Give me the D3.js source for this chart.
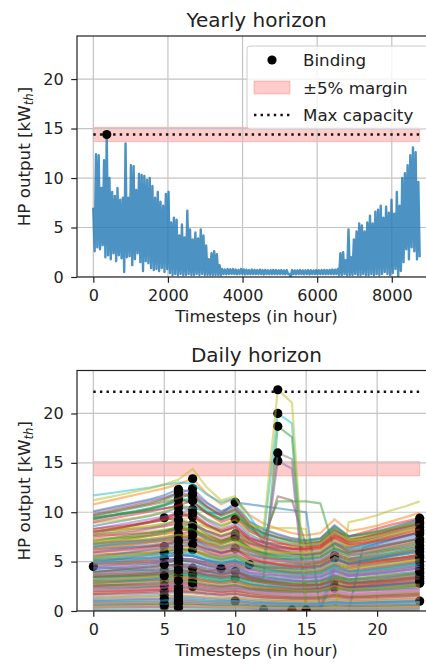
<!DOCTYPE html>
<html>
<head>
<meta charset="utf-8">
<script src="https://cdn.jsdelivr.net/npm/d3@7"></script>
<style>
  body { margin: 0; background: #fff; }
  svg { display: block; font-family: "DejaVu Sans", sans-serif; }
</style>
</head>
<body>
<svg id="fig" width="426" height="664"></svg>
<script>
// ---------- data ----------
// Yearly heat-pump output, summarised as alternating high/low samples every 36 h
const sampleHours = 36;
const yearlyPeaks = [
  7.0,12.4,12.3,9.0,11.8,14.4,10.0,8.6,8.2,9.0,
  7.8,8.0,13.5,8.0,11.3,11.2,8.8,10.4,10.3,10.2,
  9.8,10.0,9.2,8.0,8.6,7.6,7.2,8.4,8.6,5.5,
  6.0,5.8,4.2,5.3,4.0,6.7,4.8,3.8,4.5,3.9,
  4.8,4.2,3.2,1.8,2.4,2.6,2.3,1.2,0.8,0.75,
  0.8,0.78,0.8,0.75,0.72,0.8,0.76,0.74,0.7,0.75,
  0.72,0.7,0.74,0.7,0.72,0.68,0.7,0.72,0.7,0.68,
  0.7,0.66,0.7,0.3,0.7,0.66,0.68,0.7,0.66,0.68,
  0.7,0.68,0.66,0.7,0.68,0.7,0.72,0.7,0.72,0.75,
  0.74,0.8,2.4,2.5,1.7,4.8,2.0,3.8,4.6,5.4,
  5.2,4.6,5.5,6.2,5.4,6.6,6.8,7.2,6.0,7.1,
  6.5,7.8,6.4,8.6,7.2,10.0,10.5,11.3,12.3,13.1,
  12.6,9.6
];
const yearlyLows = [
  2.6,3.0,2.8,3.2,2.0,2.2,1.8,2.4,1.6,2.2,
  1.9,0.5,2.0,2.1,1.2,1.8,2.4,1.5,0.6,1.6,
  1.4,0.9,0.7,0.8,0.6,0.9,0.5,0.8,0.4,0.2,
  0.3,0.2,0.3,0.2,0.2,0.3,0.2,0.2,0.3,0.2,
  0.3,0.2,0.2,0.2,0.2,0.2,0.2,0.2,0.3,0.28,
  0.3,0.32,0.3,0.28,0.3,0.3,0.26,0.3,0.28,0.3,
  0.3,0.28,0.3,0.26,0.3,0.28,0.3,0.3,0.28,0.3,
  0.3,0.28,0.3,0.0,0.3,0.28,0.3,0.3,0.28,0.3,
  0.26,0.3,0.3,0.28,0.3,0.3,0.28,0.3,0.3,0.28,
  0.3,0.2,0.2,0.3,0.2,0.2,0.2,0.3,0.2,0.2,
  0.3,0.2,0.2,0.3,0.2,0.3,0.2,0.3,0.5,0.3,
  0.2,0.4,0.8,0.0,0.6,1.5,2.8,1.8,3.0,2.6,
  1.8,2.0
];

const yearlyCapacity = 14.4;   // kW_th, sized on the whole year
const dailyCapacity = 22.2;    // kW_th, largest of the day-by-day sizings
const marginFraction = 0.05;

const yearTicks = [0, 2000, 4000, 6000, 8000];
const hourTicks = [0, 5, 10, 15, 20];
const valueTicks = [0, 5, 10, 15, 20];
const yMax = 24.35;

const hoursOfDay = [0,1,2,3,4,5,6,7,8,9,10,11,12,13,14,15,16,17,18,19,20,21,22,23];

// One hourly profile per optimised day
const dailyProfiles = [
  [10.1,10.4,10.71,11.01,11.31,11.72,12.32,12.02,10.91,10.1,10.71,9.09,8.28,7.78,7.37,7.17,7.37,8.69,7.58,7.78,8.08,8.48,8.89,9.29],
  [10.8,11.12,11.45,11.77,12.1,12.42,12.85,13.39,11.88,10.8,11.45,9.72,8.86,8.32,7.88,7.67,7.88,9.29,8.1,8.32,8.64,9.07,9.5,9.94],
  [9.7,9.99,10.28,10.57,10.86,11.25,11.83,11.54,10.48,9.7,10.28,8.73,7.95,7.47,7.08,6.89,7.08,8.34,7.28,7.47,7.76,8.15,8.54,8.92],
  [8.1,8.18,8.26,8.34,8.42,8.59,8.83,8.75,8.1,7.61,8.02,7.29,6.97,6.8,6.72,6.72,6.97,8.1,7.53,7.94,8.34,8.75,9.07,9.4],
  [10.0,10.3,10.6,10.9,11.2,11.5,11.9,12.4,11.0,10.0,10.6,9.0,8.2,7.7,7.3,7.1,7.3,8.6,7.5,7.7,8.0,8.4,8.8,9.2],
  [7.8,8.11,8.42,8.74,9.05,9.44,9.13,8.81,8.11,7.57,8.03,6.86,6.32,5.93,5.62,5.46,5.62,6.63,5.77,5.93,6.16,6.47,6.79,7.1],
  [9.2,9.48,9.75,10.03,10.3,10.67,11.22,10.95,9.94,9.2,9.75,8.28,7.54,7.08,6.72,6.53,6.72,7.91,6.9,7.08,7.36,7.73,8.1,8.46],
  [6.72,6.85,6.99,7.12,7.26,7.39,7.53,7.46,7.12,6.99,7.8,6.38,5.78,5.38,5.11,4.97,5.11,5.91,5.24,5.38,5.58,5.85,6.12,6.38],
  [7.76,7.84,7.92,7.99,8.07,8.23,8.46,8.38,7.76,7.29,7.68,6.98,6.67,6.52,6.44,6.44,6.67,7.76,7.22,7.6,7.99,8.38,8.69,9.0],
  [9.3,9.58,9.86,10.14,10.42,10.7,11.07,11.53,10.23,9.3,9.86,8.37,7.63,7.16,6.79,6.6,6.79,8.0,6.98,7.16,7.44,7.81,8.18,8.56],
  [8.6,8.86,9.12,9.37,9.63,9.98,10.49,10.23,9.29,8.6,9.12,7.74,7.05,6.62,6.28,6.11,6.28,7.4,6.45,6.62,6.88,7.22,7.57,7.91],
  [7.33,7.4,7.48,7.55,7.62,7.77,7.99,7.92,7.33,6.89,7.26,6.6,6.3,6.16,6.08,6.08,6.3,7.33,6.82,7.18,7.55,7.92,8.21,8.5],
  [6.47,6.6,6.73,6.86,6.99,7.12,7.25,7.18,6.86,6.73,7.5,6.15,5.56,5.18,4.92,4.79,4.92,5.69,5.05,5.18,5.37,5.63,5.89,6.15],
  [8.0,8.24,8.48,8.72,8.96,9.28,9.76,9.52,8.64,8.0,8.48,7.2,6.56,6.16,5.84,5.68,5.84,6.88,6.0,6.16,6.4,6.72,7.04,7.36],
  [8.3,8.55,8.8,9.05,9.3,9.55,9.88,10.29,9.13,8.3,8.8,7.47,6.81,6.39,6.06,5.89,6.06,7.14,6.23,6.39,6.64,6.97,7.3,7.64],
  [6.9,6.97,7.04,7.11,7.18,7.31,7.52,7.45,6.9,6.49,6.83,6.21,5.93,5.8,5.73,5.73,5.93,6.9,6.42,6.76,7.11,7.45,7.73,8.0],
  [7.4,7.62,7.84,8.07,8.29,8.58,9.03,8.81,7.99,7.4,7.84,6.66,6.07,5.7,5.4,5.25,5.4,6.36,5.55,5.7,5.92,6.22,6.51,6.81],
  [5.4,5.62,5.83,6.05,6.26,6.53,6.32,6.1,5.62,5.24,5.56,4.75,4.37,4.1,3.89,3.78,3.89,4.59,4.0,4.1,4.27,4.48,4.7,4.91],
  [7.7,7.93,8.16,8.39,8.62,8.86,9.16,9.55,8.47,7.7,8.16,6.93,6.31,5.93,5.62,5.47,5.62,6.62,5.78,5.93,6.16,6.47,6.78,7.08],
  [6.72,6.79,6.85,6.92,6.99,7.12,7.32,7.26,6.72,6.32,6.65,6.05,5.78,5.64,5.58,5.58,5.78,6.72,6.25,6.59,6.92,7.26,7.53,7.8],
  [6.8,7.0,7.21,7.41,7.62,7.89,8.3,8.09,7.34,6.8,7.21,6.12,5.58,5.24,4.96,4.83,4.96,5.85,5.1,5.24,5.44,5.71,5.98,6.26],
  [5.43,5.54,5.65,5.76,5.86,5.97,6.08,6.03,5.76,5.65,6.3,5.16,4.67,4.34,4.13,4.02,4.13,4.78,4.24,4.34,4.51,4.72,4.94,5.16],
  [7.1,7.31,7.53,7.74,7.95,8.17,8.45,8.8,7.81,7.1,7.53,6.39,5.82,5.47,5.18,5.04,5.18,6.11,5.33,5.47,5.68,5.96,6.25,6.53],
  [5.0,5.0,5.05,5.1,5.15,5.2,5.3,5.25,4.9,4.65,4.9,4.6,4.5,4.5,4.55,4.65,4.9,5.6,5.1,5.1,5.2,5.3,5.4,5.5],
  [6.2,6.39,6.57,6.76,6.94,7.19,7.56,7.38,6.7,6.2,6.57,5.58,5.08,4.77,4.53,4.4,4.53,5.33,4.65,4.77,4.96,5.21,5.46,5.7],
  [5.69,5.75,5.8,5.86,5.92,6.03,6.2,6.15,5.69,5.35,5.63,5.12,4.89,4.78,4.72,4.72,4.89,5.69,5.29,5.58,5.86,6.15,6.37,6.6],
  [4.4,4.58,4.75,4.93,5.1,5.32,5.15,4.97,4.58,4.27,4.53,3.87,3.56,3.34,3.17,3.08,3.17,3.74,3.26,3.34,3.48,3.65,3.83,4.0],
  [6.5,6.7,6.89,7.09,7.28,7.48,7.74,8.06,7.15,6.5,6.89,5.85,5.33,5.01,4.75,4.62,4.75,5.59,4.88,5.01,5.2,5.46,5.72,5.98],
  [5.7,5.87,6.04,6.21,6.38,6.61,6.95,6.78,6.16,5.7,6.04,5.13,4.67,4.39,4.16,4.05,4.16,4.9,4.28,4.39,4.56,4.79,5.02,5.24],
  [4.5,4.4,4.3,4.2,4.1,4.0,4.1,4.0,3.7,3.4,3.6,3.2,2.9,2.7,2.5,2.4,2.5,2.9,2.5,2.5,2.6,2.7,2.8,2.9],
  [4.83,4.88,4.93,4.97,5.02,5.12,5.26,5.22,4.83,4.54,4.78,4.35,4.15,4.06,4.01,4.01,4.15,4.83,4.49,4.73,4.97,5.22,5.41,5.6],
  [4.82,4.82,4.87,4.92,4.96,5.01,5.11,5.06,4.72,4.48,4.72,4.43,4.34,4.34,4.39,4.48,4.72,5.4,4.92,4.92,5.01,5.11,5.21,5.3],
  [5.2,5.36,5.51,5.67,5.82,6.03,6.34,6.19,5.62,5.2,5.51,4.68,4.26,4.0,3.8,3.69,3.8,4.47,3.9,4.0,4.16,4.37,4.58,4.78],
  [3.45,3.52,3.59,3.66,3.73,3.8,3.86,3.83,3.66,3.59,4.0,3.28,2.97,2.76,2.62,2.55,2.62,3.04,2.69,2.76,2.86,3.0,3.14,3.28],
  [5.9,6.08,6.25,6.43,6.61,6.79,7.02,7.32,6.49,5.9,6.25,5.31,4.84,4.54,4.31,4.19,4.31,5.07,4.43,4.54,4.72,4.96,5.19,5.43],
  [4.66,4.71,4.75,4.8,4.85,4.94,5.08,5.03,4.66,4.38,4.61,4.19,4.01,3.91,3.87,3.87,4.01,4.66,4.33,4.57,4.8,5.03,5.22,5.4],
  [3.4,3.54,3.67,3.81,3.94,4.11,3.98,3.84,3.54,3.3,3.5,2.99,2.75,2.58,2.45,2.38,2.45,2.89,2.52,2.58,2.69,2.82,2.96,3.09],
  [4.7,4.84,4.98,5.12,5.26,5.45,5.73,5.59,5.08,4.7,4.98,4.23,3.85,3.62,3.43,3.34,3.43,4.04,3.53,3.62,3.76,3.95,4.14,4.32],
  [3.6,3.6,3.7,3.8,3.9,4.0,4.1,4.1,4.0,3.9,4.2,4.7,3.6,3.3,3.1,3.0,3.1,3.5,3.2,3.3,3.4,3.5,3.6,3.7],
  [3.97,4.01,4.05,4.09,4.13,4.21,4.33,4.29,3.97,3.73,3.93,3.57,3.41,3.33,3.3,3.3,3.41,3.97,3.69,3.89,4.09,4.29,4.45,4.6],
  [4.2,4.33,4.45,4.58,4.7,4.87,5.12,5.0,4.54,4.2,4.45,3.78,3.44,3.23,3.07,2.98,3.07,3.61,3.15,3.23,3.36,3.53,3.7,3.86],
  [5.0,5.15,5.3,5.45,5.6,5.75,5.95,6.2,5.5,5.0,5.3,4.5,4.1,3.85,3.65,3.55,3.65,4.3,3.75,3.85,4.0,4.2,4.4,4.6],
  [2.84,2.9,2.95,3.01,3.07,3.12,3.18,3.15,3.01,2.95,3.29,2.7,2.44,2.27,2.16,2.1,2.16,2.5,2.22,2.27,2.36,2.47,2.58,2.7],
  [3.2,3.3,3.4,3.5,3.6,3.7,3.8,3.9,4.0,4.3,4.1,3.5,3.1,2.9,2.7,2.6,2.7,3.1,2.8,2.9,3.0,3.1,3.3,3.4],
  [3.71,3.75,3.78,3.82,3.86,3.93,4.04,4.01,3.71,3.49,3.67,3.34,3.19,3.12,3.08,3.08,3.19,3.71,3.45,3.64,3.82,4.01,4.16,4.3],
  [3.7,3.81,3.92,4.03,4.14,4.29,4.51,4.4,4.0,3.7,3.92,3.33,3.03,2.85,2.7,2.63,2.7,3.18,2.78,2.85,2.96,3.11,3.26,3.4],
  [2.5,2.6,2.7,2.8,2.9,3.03,2.93,2.83,2.6,2.43,2.58,2.2,2.03,1.9,1.8,1.75,1.8,2.13,1.85,1.9,1.98,2.08,2.18,2.28],
  [3.5,3.6,3.71,3.82,3.92,4.03,4.17,4.34,3.85,3.5,3.71,3.15,2.87,2.7,2.56,2.49,2.56,3.01,2.63,2.7,2.8,2.94,3.08,3.22],
  [3.28,3.31,3.35,3.38,3.41,3.48,3.58,3.54,3.28,3.08,3.25,2.95,2.82,2.76,2.72,2.72,2.82,3.28,3.05,3.21,3.38,3.54,3.67,3.8],
  [3.2,3.3,3.39,3.49,3.58,3.71,3.9,3.81,3.46,3.2,3.39,2.88,2.62,2.46,2.34,2.27,2.34,2.75,2.4,2.46,2.56,2.69,2.82,2.94],
  [2.32,2.32,2.34,2.37,2.39,2.41,2.46,2.44,2.27,2.16,2.27,2.13,2.09,2.09,2.11,2.16,2.27,2.6,2.37,2.37,2.41,2.46,2.51,2.55],
  [2.84,2.87,2.9,2.93,2.95,3.01,3.1,3.07,2.84,2.67,2.81,2.56,2.44,2.39,2.36,2.36,2.44,2.84,2.64,2.78,2.93,3.07,3.18,3.3],
  [2.8,2.88,2.97,3.05,3.14,3.25,3.42,3.33,3.02,2.8,2.97,2.52,2.3,2.16,2.04,1.99,2.04,2.41,2.1,2.16,2.24,2.35,2.46,2.58],
  [1.7,1.77,1.84,1.9,1.97,2.06,1.99,1.92,1.77,1.65,1.75,1.5,1.38,1.29,1.22,1.19,1.22,1.45,1.26,1.29,1.34,1.41,1.48,1.55],
  [2.05,2.05,2.07,2.09,2.11,2.13,2.17,2.15,2.01,1.91,2.01,1.89,1.85,1.85,1.87,1.91,2.01,2.3,2.09,2.09,2.13,2.17,2.21,2.26],
  [2.41,2.43,2.46,2.48,2.51,2.55,2.63,2.6,2.41,2.27,2.39,2.17,2.07,2.02,2.0,2.0,2.07,2.41,2.24,2.36,2.48,2.6,2.7,2.8],
  [2.6,2.68,2.76,2.83,2.91,2.99,3.09,3.22,2.86,2.6,2.76,2.34,2.13,2.0,1.9,1.85,1.9,2.24,1.95,2.0,2.08,2.18,2.29,2.39],
  [2.3,2.37,2.44,2.51,2.58,2.67,2.81,2.74,2.48,2.3,2.44,2.07,1.89,1.77,1.68,1.63,1.68,1.98,1.73,1.77,1.84,1.93,2.02,2.12],
  [8.0,8.2,8.3,8.5,8.6,8.8,9.0,8.9,8.5,8.3,9.3,8.6,8.4,8.4,8.4,8.3,0.1,0.0,6.0,6.2,6.4,6.7,7.0,7.3],
  [1.3,1.35,1.4,1.46,1.51,1.57,1.52,1.47,1.35,1.26,1.34,1.14,1.05,0.99,0.94,0.91,0.94,1.11,0.96,0.99,1.03,1.08,1.13,1.18],
  [9.4,9.6,9.8,10.0,10.2,10.4,10.6,10.5,10.0,9.8,11.0,10.8,10.6,10.4,10.2,10.0,0.1,0.0,0.0,6.4,6.8,7.2,7.6,8.0],
  [2.0,2.06,2.12,2.18,2.24,2.3,2.38,2.48,2.2,2.0,2.12,1.8,1.64,1.54,1.46,1.42,1.46,1.72,1.5,1.54,1.6,1.68,1.76,1.84],
  [9.3,9.6,9.9,10.1,10.4,10.8,11.35,11.1,10.0,9.3,9.9,8.4,7.4,11.1,11.1,11.1,10.9,6.1,5.6,5.8,6.1,6.4,6.7,7.0],
  [1.9,1.96,2.01,2.07,2.13,2.2,2.32,2.26,2.05,1.9,2.01,1.71,1.56,1.46,1.39,1.35,1.39,1.63,1.43,1.46,1.52,1.6,1.67,1.75],
  [0.86,0.87,0.88,0.89,0.89,0.91,0.94,0.93,0.86,0.81,0.85,0.77,0.74,0.72,0.71,0.71,0.74,0.86,0.8,0.84,0.89,0.93,0.96,1.0],
  [9.8,10.1,10.4,10.7,11.0,11.4,12.0,11.7,10.6,9.8,10.4,8.8,7.0,11.6,11.2,6.6,6.8,8.0,7.0,7.2,7.5,7.9,8.3,8.6],
  [0.86,0.88,0.89,0.91,0.93,0.95,0.96,0.95,0.91,0.89,1.0,0.82,0.74,0.69,0.65,0.64,0.65,0.76,0.67,0.69,0.71,0.75,0.78,0.82],
  [1.5,1.55,1.59,1.64,1.68,1.74,1.83,1.79,1.62,1.5,1.59,1.35,1.23,1.16,1.1,1.07,1.1,1.29,1.13,1.16,1.2,1.26,1.32,1.38],
  [0.65,0.68,0.7,0.73,0.75,0.79,0.76,0.73,0.68,0.63,0.67,0.57,0.53,0.49,0.47,0.46,0.47,0.55,0.48,0.49,0.51,0.54,0.57,0.59],
  [11.7,11.9,12.1,12.3,12.5,12.8,13.0,12.9,11.8,11.0,11.4,9.6,7.5,20.0,19.0,0.5,0.3,5.5,4.8,5.0,5.3,5.6,5.9,6.2],
  [1.1,1.13,1.17,1.2,1.23,1.28,1.34,1.31,1.19,1.1,1.17,0.99,0.9,0.85,0.8,0.78,0.8,0.95,0.83,0.85,0.88,0.92,0.97,1.01],
  [0.8,0.82,0.85,0.87,0.9,0.93,0.98,0.95,0.86,0.8,0.85,0.72,0.66,0.62,0.58,0.57,0.58,0.69,0.6,0.62,0.64,0.67,0.7,0.74],
  [4.0,4.1,4.2,4.3,4.4,4.6,4.8,4.7,4.3,4.0,4.2,3.6,3.3,18.7,17.6,0.3,0.2,3.4,3.0,3.1,3.2,3.4,3.6,3.8],
  [0.35,0.36,0.38,0.39,0.41,0.42,0.41,0.4,0.36,0.34,0.36,0.31,0.28,0.27,0.25,0.25,0.25,0.3,0.26,0.27,0.28,0.29,0.3,0.32],
  [5.5,5.7,5.8,6.0,6.2,6.4,6.7,6.5,5.9,5.5,5.8,5.0,4.5,15.2,14.4,0.2,0.1,4.2,3.7,3.8,4.0,4.2,4.4,4.6],
  [0.5,0.52,0.53,0.55,0.56,0.58,0.61,0.6,0.54,0.5,0.53,0.45,0.41,0.39,0.37,0.36,0.37,0.43,0.38,0.39,0.4,0.42,0.44,0.46],
  [0.05,0.05,0.05,0.05,0.05,0.05,0.06,0.06,0.05,0.05,0.05,0.06,0.12,0.08,0.05,0.04,0.04,0.05,0.04,0.04,0.05,0.05,0.05,0.05],
  [6.0,6.2,6.4,6.6,6.7,6.9,7.3,7.1,6.5,6.0,6.4,5.4,4.9,16.0,15.4,0.4,0.2,4.6,4.0,4.1,4.3,4.5,4.7,4.9],
  [11.2,11.5,11.8,12.1,12.4,12.8,13.3,14.4,12.5,11.2,11.6,8.8,8.4,22.4,21.1,0.2,0.1,0.0,9.0,9.3,9.7,10.2,10.6,11.1],
  [0.25,0.26,0.27,0.27,0.28,0.29,0.31,0.3,0.27,0.25,0.27,0.23,0.21,0.19,0.18,0.18,0.18,0.22,0.19,0.19,0.2,0.21,0.22,0.23],
  [0.04,0.04,0.04,0.05,0.05,0.05,0.05,0.05,0.05,0.04,0.05,0.05,0.06,0.07,0.1,0.05,0.04,0.05,0.04,0.04,0.04,0.04,0.04,0.04],
  [0.03,0.03,0.03,0.03,0.03,0.04,0.04,0.04,0.04,0.03,0.04,0.04,0.05,0.05,0.06,0.09,0.05,0.04,0.03,0.03,0.03,0.03,0.03,0.03],
  [9.45,9.64,9.83,10.02,10.3,10.68,11.34,10.96,9.92,9.26,9.83,8.51,7.84,7.47,7.18,7.09,7.28,8.51,7.56,7.75,8.03,8.32,8.69,9.07],
  [7.59,7.67,7.74,7.82,7.89,8.05,8.27,8.2,7.59,7.13,7.51,6.83,6.53,6.38,6.3,6.3,6.53,7.59,7.06,7.44,7.82,8.2,8.5,8.8],
  [4.9,5.1,5.29,5.49,5.68,5.93,5.73,5.54,5.1,4.75,5.05,4.31,3.97,3.72,3.53,3.43,3.53,4.17,3.63,3.72,3.87,4.07,4.26,4.46],
  [9.6,9.89,10.18,10.46,10.75,11.04,11.42,11.9,10.56,9.6,10.18,8.64,7.87,7.39,7.01,6.82,7.01,8.26,7.2,7.39,7.68,8.06,8.45,8.83],
  [0.4,0.41,0.42,0.42,0.44,0.45,0.48,0.46,0.42,0.39,0.42,0.36,0.33,0.32,0.3,0.3,0.31,0.36,0.32,0.33,0.34,0.35,0.37,0.38],
  [3.02,3.05,3.08,3.11,3.14,3.2,3.29,3.26,3.02,2.84,2.99,2.72,2.6,2.54,2.51,2.51,2.6,3.02,2.81,2.96,3.11,3.26,3.38,3.5],
  [8.9,9.08,9.26,9.43,9.7,10.06,10.68,10.32,9.35,8.72,9.26,8.01,7.39,7.03,6.76,6.68,6.85,8.01,7.12,7.3,7.57,7.83,8.19,8.54],
  [3.0,3.09,3.18,3.27,3.36,3.45,3.57,3.72,3.3,3.0,3.18,2.7,2.46,2.31,2.19,2.13,2.19,2.58,2.25,2.31,2.4,2.52,2.64,2.76],
  [6.29,6.35,6.42,6.48,6.54,6.67,6.86,6.79,6.29,5.91,6.23,5.66,5.41,5.28,5.22,5.22,5.41,6.29,5.85,6.16,6.48,6.79,7.04,7.3],
  [1.3,1.33,1.35,1.38,1.42,1.47,1.56,1.51,1.37,1.27,1.35,1.17,1.08,1.03,0.99,0.98,1.0,1.17,1.04,1.07,1.11,1.14,1.2,1.25],
  [2.1,2.18,2.27,2.35,2.44,2.54,2.46,2.37,2.18,2.04,2.16,1.85,1.7,1.6,1.51,1.47,1.51,1.79,1.55,1.6,1.66,1.74,1.83,1.91],
  [8.3,8.47,8.63,8.8,9.05,9.38,9.96,9.63,8.72,8.13,8.63,7.47,6.89,6.56,6.31,6.23,6.39,7.47,6.64,6.81,7.06,7.3,7.64,7.97],
  [4.31,4.35,4.4,4.44,4.48,4.57,4.7,4.65,4.31,4.05,4.27,3.88,3.71,3.62,3.58,3.58,3.71,4.31,4.01,4.22,4.44,4.65,4.83,5.0],
  [8.0,8.24,8.48,8.72,8.96,9.2,9.52,9.92,8.8,8.0,8.48,7.2,6.56,6.16,5.84,5.68,5.84,6.88,6.0,6.16,6.4,6.72,7.04,7.36],
  [2.1,2.14,2.18,2.23,2.29,2.37,2.52,2.44,2.21,2.06,2.18,1.89,1.74,1.66,1.6,1.58,1.62,1.89,1.68,1.72,1.79,1.85,1.93,2.02],
  [7.7,7.85,8.01,8.16,8.39,8.7,9.24,8.93,8.09,7.55,8.01,6.93,6.39,6.08,5.85,5.78,5.93,6.93,6.16,6.31,6.55,6.78,7.08,7.39],
  [0.5,0.52,0.54,0.56,0.58,0.61,0.59,0.57,0.52,0.49,0.52,0.44,0.41,0.38,0.36,0.35,0.36,0.43,0.37,0.38,0.4,0.42,0.44,0.46],
  [5.43,5.48,5.54,5.59,5.65,5.76,5.92,5.86,5.43,5.1,5.38,4.89,4.67,4.56,4.51,4.51,4.67,5.43,5.05,5.32,5.59,5.86,6.08,6.3],
  [3.0,3.06,3.12,3.18,3.27,3.39,3.6,3.48,3.15,2.94,3.12,2.7,2.49,2.37,2.28,2.25,2.31,2.7,2.4,2.46,2.55,2.64,2.76,2.88],
  [6.8,7.0,7.21,7.41,7.62,7.82,8.09,8.43,7.48,6.8,7.21,6.12,5.58,5.24,4.96,4.83,4.96,5.85,5.1,5.24,5.44,5.71,5.98,6.26],
  [7.1,7.24,7.38,7.53,7.74,8.02,8.52,8.24,7.46,6.96,7.38,6.39,5.89,5.61,5.4,5.33,5.47,6.39,5.68,5.82,6.04,6.25,6.53,6.82],
  [2.59,2.62,2.64,2.67,2.69,2.75,2.82,2.8,2.59,2.43,2.56,2.33,2.23,2.18,2.15,2.15,2.23,2.59,2.41,2.54,2.67,2.8,2.9,3.0],
  [3.95,4.03,4.11,4.19,4.31,4.46,4.74,4.58,4.15,3.87,4.11,3.56,3.28,3.12,3.0,2.96,3.04,3.56,3.16,3.24,3.36,3.48,3.63,3.79],
  [3.9,4.06,4.21,4.37,4.52,4.72,4.56,4.41,4.06,3.78,4.02,3.43,3.16,2.96,2.81,2.73,2.81,3.32,2.89,2.96,3.08,3.24,3.39,3.55],
  [2.3,2.37,2.44,2.51,2.58,2.65,2.74,2.85,2.53,2.3,2.44,2.07,1.89,1.77,1.68,1.63,1.68,1.98,1.73,1.77,1.84,1.93,2.02,2.12],
  [6.5,6.63,6.76,6.89,7.09,7.35,7.8,7.54,6.83,6.37,6.76,5.85,5.4,5.14,4.94,4.88,5.01,5.85,5.2,5.33,5.53,5.72,5.98,6.24],
  [7.07,7.14,7.21,7.28,7.35,7.49,7.71,7.64,7.07,6.65,7.0,6.36,6.08,5.94,5.87,5.87,6.08,7.07,6.58,6.93,7.28,7.64,7.92,8.2],
  [4.95,5.05,5.15,5.25,5.4,5.59,5.94,5.74,5.2,4.85,5.15,4.46,4.11,3.91,3.76,3.71,3.81,4.46,3.96,4.06,4.21,4.36,4.55,4.75],
  [0.65,0.66,0.68,0.69,0.71,0.73,0.78,0.75,0.68,0.64,0.68,0.59,0.54,0.51,0.49,0.49,0.5,0.59,0.52,0.53,0.55,0.57,0.6,0.62],
  [6.2,6.39,6.57,6.76,6.94,7.13,7.38,7.69,6.82,6.2,6.57,5.58,5.08,4.77,4.53,4.4,4.53,5.33,4.65,4.77,4.96,5.21,5.46,5.7],
  [3.45,3.48,3.52,3.55,3.59,3.66,3.76,3.73,3.45,3.24,3.42,3.11,2.97,2.9,2.86,2.86,2.97,3.45,3.21,3.38,3.55,3.73,3.86,4.0],
  [5.95,6.07,6.19,6.31,6.49,6.72,7.14,6.9,6.25,5.83,6.19,5.36,4.94,4.7,4.52,4.46,4.58,5.36,4.76,4.88,5.06,5.24,5.47,5.71],
  [1.0,1.04,1.08,1.12,1.16,1.21,1.17,1.13,1.04,0.97,1.03,0.88,0.81,0.76,0.72,0.7,0.72,0.85,0.74,0.76,0.79,0.83,0.87,0.91],
  [1.7,1.73,1.77,1.8,1.85,1.92,2.04,1.97,1.79,1.67,1.77,1.53,1.41,1.34,1.29,1.28,1.31,1.53,1.36,1.39,1.45,1.5,1.56,1.63],
  [6.03,6.09,6.15,6.21,6.27,6.39,6.57,6.51,6.03,5.67,5.97,5.43,5.19,5.07,5.0,5.0,5.19,6.03,5.61,5.91,6.21,6.51,6.75,7.0],
  [5.45,5.61,5.78,5.94,6.1,6.27,6.49,6.76,6.0,5.45,5.78,4.91,4.47,4.2,3.98,3.87,3.98,4.69,4.09,4.2,4.36,4.58,4.8,5.01],
  [5.45,5.56,5.67,5.78,5.94,6.16,6.54,6.32,5.72,5.34,5.67,4.91,4.52,4.31,4.14,4.09,4.2,4.91,4.36,4.47,4.63,4.8,5.01,5.23],
  [0.95,0.97,0.99,1.01,1.04,1.07,1.14,1.1,1.0,0.93,0.99,0.86,0.79,0.75,0.72,0.71,0.73,0.86,0.76,0.78,0.81,0.84,0.87,0.91],
  [5.17,5.22,5.27,5.33,5.38,5.48,5.64,5.58,5.17,4.86,5.12,4.65,4.45,4.34,4.29,4.29,4.45,5.17,4.81,5.07,5.33,5.58,5.79,6.0],
  [2.95,3.07,3.19,3.3,3.42,3.57,3.45,3.33,3.07,2.86,3.04,2.6,2.39,2.24,2.12,2.07,2.12,2.51,2.18,2.24,2.33,2.45,2.57,2.68],
  [2.55,2.6,2.65,2.7,2.78,2.88,3.06,2.96,2.68,2.5,2.65,2.3,2.12,2.01,1.94,1.91,1.96,2.3,2.04,2.09,2.17,2.24,2.35,2.45],
  [9.0,9.27,9.54,9.81,10.08,10.35,10.71,11.16,9.9,9.0,9.54,8.1,7.38,6.93,6.57,6.39,6.57,7.74,6.75,6.93,7.2,7.56,7.92,8.28],
  [4.45,4.54,4.63,4.72,4.85,5.03,5.34,5.16,4.67,4.36,4.63,4.01,3.69,3.52,3.38,3.34,3.43,4.01,3.56,3.65,3.78,3.92,4.09,4.27],
  [3.45,3.52,3.59,3.66,3.76,3.9,4.14,4.0,3.62,3.38,3.59,3.11,2.86,2.73,2.62,2.59,2.66,3.11,2.76,2.83,2.93,3.04,3.17,3.31]
];

// ---------- drawing ----------
const svg = d3.select("#fig");
const tab10 = d3.schemeCategory10;
const textColor = "#222";

const yearlySeries = [];
yearlyPeaks.forEach((v, i) => {
  yearlySeries.push({ t: 2 * i * sampleHours, v: v });
  yearlySeries.push({ t: (2 * i + 1) * sampleHours, v: yearlyLows[i] });
});

function padded(extent) {
  const span = extent[1] - extent[0];
  return [extent[0] - 0.05 * span, extent[1] + 0.05 * span];
}

function makePanel(id, box, xExtent, xTicks, title) {
  const x = d3.scaleLinear().domain(padded(xExtent)).range([box.left, box.right]);
  const y = d3.scaleLinear().domain([0, yMax]).range([box.bottom, box.top]);
  const g = svg.append("g").attr("class", id);

  g.append("clipPath").attr("id", "clip-" + id)
    .append("rect")
    .attr("x", box.left).attr("y", box.top)
    .attr("width", box.right - box.left).attr("height", box.bottom - box.top);

  const under = g.append("g").attr("clip-path", `url(#clip-${id})`);
  const grid = g.append("g").attr("clip-path", `url(#clip-${id})`);
  const plot = g.append("g").attr("clip-path", `url(#clip-${id})`);

  grid.selectAll("line.gx").data(xTicks).join("line")
    .attr("x1", d => x(d)).attr("x2", d => x(d))
    .attr("y1", box.top).attr("y2", box.bottom)
    .attr("stroke", "#c4c4c4").attr("stroke-width", 1.2);
  grid.selectAll("line.gy").data(valueTicks).join("line")
    .attr("x1", box.left).attr("x2", box.right)
    .attr("y1", d => y(d)).attr("y2", d => y(d))
    .attr("stroke", "#c4c4c4").attr("stroke-width", 1.2);

  const xAxis = g.append("g").attr("transform", `translate(0,${box.bottom})`)
    .call(d3.axisBottom(x).tickValues(xTicks).tickFormat(d3.format("d"))
      .tickSize(5.8).tickPadding(7).tickSizeOuter(0));
  const yAxis = g.append("g").attr("transform", `translate(${box.left},0)`)
    .call(d3.axisLeft(y).tickValues(valueTicks).tickFormat(d3.format("d"))
      .tickSize(5.8).tickPadding(7.5).tickSizeOuter(0));
  [xAxis, yAxis].forEach(a => {
    a.select(".domain").remove();
    a.selectAll(".tick line").attr("stroke", "#222").attr("stroke-width", 1.2);
    a.selectAll(".tick text").attr("fill", textColor)
      .style("font-family", '"DejaVu Sans", sans-serif').style("font-size", "16px");
  });

  g.append("text")
    .attr("x", (box.left + box.right) / 2).attr("y", box.top - 9)
    .attr("text-anchor", "middle").attr("fill", textColor)
    .style("font-size", "20px").text(title);

  g.append("text")
    .attr("x", (box.left + box.right) / 2).attr("y", box.bottom + 45)
    .attr("text-anchor", "middle").attr("fill", textColor)
    .style("font-size", "16.7px").text("Timesteps (in hour)");

  const yl = g.append("text")
    .attr("transform", `translate(29.5,${(box.top + box.bottom) / 2}) rotate(-90)`)
    .attr("text-anchor", "middle").attr("fill", textColor)
    .style("font-size", "16.7px");
  yl.append("tspan").text("HP output [kW");
  yl.append("tspan").attr("dy", 3.5).style("font-size", "11.7px").style("font-style", "italic").text("th");
  yl.append("tspan").attr("dy", -3.5).text("]");

  return { x, y, g, under, plot, box };
}

function drawMargin(p, xMaxData) {
  p.under.append("rect")
    .attr("x", p.x(0)).attr("width", p.x(xMaxData) - p.x(0))
    .attr("y", p.y(yearlyCapacity * (1 + marginFraction)))
    .attr("height", p.y(yearlyCapacity * (1 - marginFraction)) - p.y(yearlyCapacity * (1 + marginFraction)))
    .attr("fill", "red").attr("fill-opacity", 0.2)
    .attr("stroke", "red").attr("stroke-opacity", 0.2).attr("stroke-width", 1);
}

function drawCapacity(p, xMaxData, cap) {
  p.plot.append("line")
    .attr("x1", p.x(0)).attr("x2", p.x(xMaxData))
    .attr("y1", p.y(cap)).attr("y2", p.y(cap))
    .attr("stroke", "#111").attr("stroke-width", 2.4)
    .attr("stroke-dasharray", "2.4,4.2");
}

function drawFrame(p) {
  const b = p.box;
  p.g.append("rect")
    .attr("x", b.left).attr("y", b.top)
    .attr("width", b.right - b.left).attr("height", b.bottom - b.top)
    .attr("fill", "none").attr("stroke", "#222").attr("stroke-width", 1.2);
}

// ----- yearly panel -----
const yearEnd = yearlySeries[yearlySeries.length - 1].t;
const yearPanel = makePanel("yearly", { left: 77, right: 436, top: 36, bottom: 277 },
  [0, yearEnd], yearTicks, "Yearly horizon");
drawMargin(yearPanel, yearEnd);

yearPanel.plot.append("path")
  .datum(yearlySeries)
  .attr("d", d3.line().x(d => yearPanel.x(d.t)).y(d => yearPanel.y(d.v)))
  .attr("fill", "none").attr("stroke", "#1f77b4").attr("stroke-opacity", 0.8)
  .attr("stroke-width", 2.4).attr("stroke-linejoin", "round");

drawCapacity(yearPanel, yearEnd, yearlyCapacity);

const yearBinding = yearlySeries[d3.maxIndex(yearlySeries, d => d.v)];
yearPanel.plot.append("circle")
  .attr("cx", yearPanel.x(yearBinding.t)).attr("cy", yearPanel.y(yearBinding.v))
  .attr("r", 4.6).attr("fill", "#000");
drawFrame(yearPanel);

// legend
const lg = yearPanel.g.append("g");
lg.append("rect").attr("x", 247).attr("y", 46).attr("width", 181).attr("height", 83)
  .attr("rx", 3).attr("fill", "#fff").attr("fill-opacity", 0.8)
  .attr("stroke", "#cccccc").attr("stroke-width", 1);
const rows = [60, 87.5, 115];
lg.append("circle").attr("cx", 272).attr("cy", rows[0]).attr("r", 4.6).attr("fill", "#000");
lg.append("rect").attr("x", 254).attr("y", rows[1] - 6.5).attr("width", 36).attr("height", 13)
  .attr("fill", "red").attr("fill-opacity", 0.2).attr("stroke", "red").attr("stroke-opacity", 0.2);
lg.append("line").attr("x1", 254).attr("x2", 290).attr("y1", rows[2]).attr("y2", rows[2])
  .attr("stroke", "#111").attr("stroke-width", 2.4).attr("stroke-dasharray", "2.4,4.2");
["Binding", "\u00b15% margin", "Max capacity"].forEach((t, i) => {
  lg.append("text").attr("x", 303).attr("y", rows[i] + 6)
    .attr("fill", textColor).style("font-size", "16.7px").text(t);
});

// ----- daily panel -----
const dayEnd = hoursOfDay[hoursOfDay.length - 1];
const dayPanel = makePanel("daily", { left: 77, right: 436, top: 370.5, bottom: 611 },
  [0, dayEnd], hourTicks, "Daily horizon");
drawMargin(dayPanel, dayEnd);
drawCapacity(dayPanel, dayEnd, dailyCapacity);

const dayLine = d3.line().x((d, h) => dayPanel.x(hoursOfDay[h])).y(d => dayPanel.y(d));
dailyProfiles.forEach((profile, i) => {
  dayPanel.plot.append("path")
    .attr("d", dayLine(profile))
    .attr("fill", "none").attr("stroke", tab10[i % 10]).attr("stroke-opacity", 0.5)
    .attr("stroke-width", 2.2).attr("stroke-linejoin", "round");
  const h = d3.maxIndex(profile);
  dayPanel.plot.append("circle")
    .attr("cx", dayPanel.x(hoursOfDay[h])).attr("cy", dayPanel.y(profile[h]))
    .attr("r", 4.6).attr("fill", "#000");
});
drawFrame(dayPanel);
</script>
</body>
</html>
